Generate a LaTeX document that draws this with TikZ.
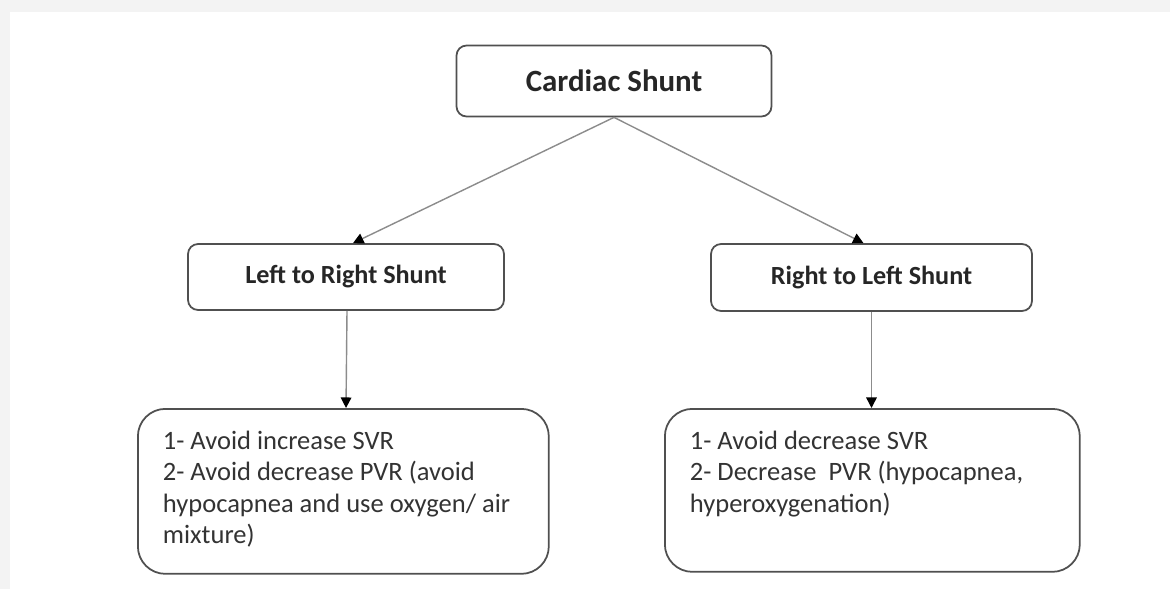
\documentclass[tikz,border=0pt]{standalone}
\usepackage{fontspec}
\setmainfont{Carlito}
\usetikzlibrary{arrows.meta}
\definecolor{boxline}{HTML}{505050}
\definecolor{linkline}{HTML}{8C8C8C}
\definecolor{pagegray}{HTML}{F3F3F3}
\tikzset{
  shuntbox/.style={draw=boxline, line width=1pt, fill=white, rounded corners=0.2cm,
    font=\bfseries\fontsize{14.9}{17}\selectfont, text=black!85, inner sep=0pt},
  notebox/.style={draw=boxline, line width=1pt, fill=white, rounded corners=0.55cm,
    font=\fontsize{15.1}{17.7}\selectfont, text=black!80, inner sep=0pt},
  link/.style={draw=linkline, line width=0.8pt, -{Triangle[length=6pt,width=6pt,black]}}
}
\newcommand{\notetext}[3]{\parbox[c][#1][t]{#2}{\leftskip=0.5cm\rightskip=0pt plus 1fil
  \hyphenpenalty=10000\vspace{0.45cm}#3}}
\begin{document}
\begin{tikzpicture}[x=0.02cm, y=-0.02cm]
      \useasboundingbox (0, 0) rectangle (1170, 589);
      \fill [pagegray] (0, 0) rectangle (1170, 589);
      \fill [white] (10, 12) rectangle (1170, 589);
      % top level
      \node [shuntbox, minimum width=6.3cm, minimum height=1.42cm,
        font=\bfseries\fontsize{17.6}{19}\selectfont] (shunt) at (614, 81) {Cardiac Shunt};
      % the two shunts
      \node [shuntbox, minimum width=6.32cm, minimum height=1.32cm] (ltr) at (346, 277) {Left to Right Shunt};
      \node [shuntbox, minimum width=6.42cm, minimum height=1.34cm] (rtl) at (871.5, 277.5) {Right to Left Shunt};
      % what to do
      \node [notebox, anchor=north west] (ltrnote) at (137, 408) {%
        \notetext{3.3cm}{8.22cm}{1- Avoid increase SVR\\
        2- Avoid decrease PVR (avoid hypocapnea and use oxygen/ air mixture)}};
      \node [notebox, anchor=north west] (rtlnote) at (664, 408) {%
        \notetext{3.26cm}{8.3cm}{1- Avoid decrease SVR\\
        2- Decrease~ PVR (hypocapnea, hyperoxygenation)}};
      \draw [link] (shunt.south) -- ([xshift=0.14cm]ltr.north);
      \draw [link] (shunt.south) -- ([xshift=-0.16cm]rtl.north);
      \draw [link] ([xshift=0.02cm]ltr.south) -- (ltr.south |- ltrnote.north);
      \draw [link] (rtl.south) -- (rtl.south |- rtlnote.north);
    \end{tikzpicture}
\end{document}
